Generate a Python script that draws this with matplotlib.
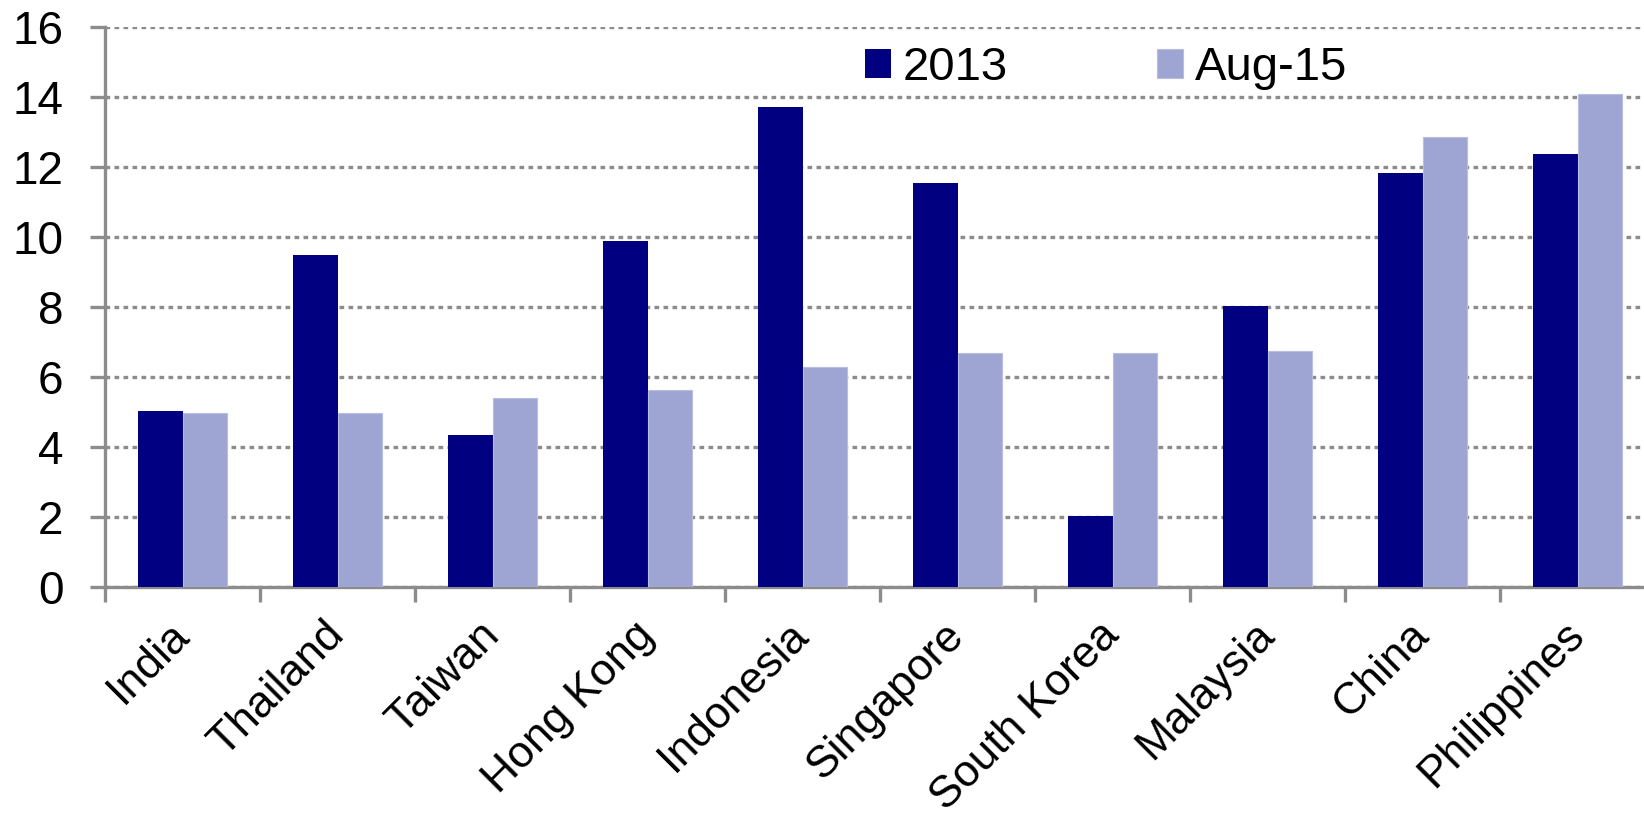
import matplotlib
matplotlib.use("Agg")
import matplotlib.pyplot as plt
import numpy as np

plt.rcParams['font.family'] = ['Liberation Sans', 'DejaVu Sans']

countries = ['India', 'Thailand', 'Taiwan', 'Hong Kong', 'Indonesia',
             'Singapore', 'South Korea', 'Malaysia', 'China', 'Philippines']
vals_2013 = [5.03, 9.49, 4.34, 9.88, 13.71, 11.53, 2.04, 8.02, 11.84, 12.36]
vals_aug15 = [4.98, 4.98, 5.39, 5.63, 6.29, 6.68, 6.68, 6.74, 12.85, 14.10]
yticks = [0, 2, 4, 6, 8, 10, 12, 14, 16]

dark = '#000080'
light = '#9ea5d3'
grey = '#8c8c8c'

fig = plt.figure(figsize=(16.44, 8.26), dpi=100)
# axes runs a little past the right edge of the figure
ax = fig.add_axes([105 / 1644, 1 - 587 / 826, 1550 / 1644, 560 / 826])

x = np.arange(len(countries))
w = 0.284
ax.bar(x - w / 2, vals_2013, w, color=dark, label='2013', zorder=3)
ax.bar(x + w / 2, vals_aug15, w, color=light, edgecolor='#b8bde2',
       linewidth=0.8, label='Aug-15', zorder=3)

ax.set_xlim(-0.5, len(countries) - 0.5)
ax.set_ylim(0, 16)
ax.set_yticks(yticks)
ax.yaxis.grid(True, color=grey, linestyle=(0, (1.4, 1.3)), linewidth=2.4, zorder=1)

for s in ['top', 'right']:
    ax.spines[s].set_visible(False)
for s in ['left', 'bottom']:
    ax.spines[s].set_color(grey)
    ax.spines[s].set_linewidth(2.4)

ax.tick_params(axis='y', length=11, width=2.4, color=grey, pad=19, labelsize=33)
ax.set_xticks(np.arange(len(countries) + 1) - 0.5)
ax.set_xticklabels([])
ax.set_xticks(x, minor=True)
ax.set_xticklabels(countries, minor=True, rotation=45, ha='right',
                   va='center', rotation_mode='anchor', fontsize=32)
ax.tick_params(axis='x', which='major', length=11, width=2.4, color=grey)
ax.tick_params(axis='x', which='minor', length=0, pad=30)

ax.legend(loc='upper left', bbox_to_anchor=(727 / 1550, 1.025), ncol=2,
          frameon=False, fontsize=34, handlelength=0.55, handleheight=0.55,
          handletextpad=0.25, columnspacing=3.15, borderaxespad=0.3)

fig.savefig('out.png', dpi=100)
